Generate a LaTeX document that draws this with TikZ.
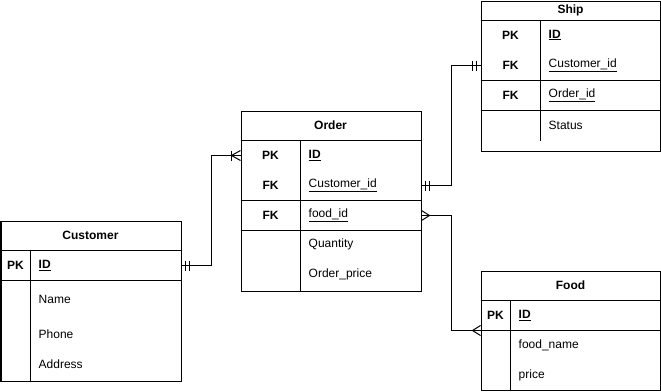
\documentclass[tikz,border=0pt]{standalone}
\usepackage{fontspec}
\setmainfont{Liberation Sans}
\usetikzlibrary{calc}

% Crow's-foot notation markers; #1 = end point, #2 = +1/-1 (side the line leaves towards)
\newcommand\ermandone[2]{%
  \draw[erline] ($(#1)+(#2*4,-5)$) -- ($(#1)+(#2*4,5)$);
  \draw[erline] ($(#1)+(#2*8,-5)$) -- ($(#1)+(#2*8,5)$);}
\newcommand\ermany[2]{%
  \draw[erline] ($(#1)+(0,-5)$) -- ($(#1)+(#2*8,0)$) -- ($(#1)+(0,5)$);}
\newcommand\eronemany[2]{%
  \draw[erline] ($(#1)+(0,-5)$) -- ($(#1)+(#2*9,0)$) -- ($(#1)+(0,5)$);
  \draw[erline] ($(#1)+(#2*9,-5)$) -- ($(#1)+(#2*9,5)$);}

\begin{document}
\begin{tikzpicture}[x=1bp,y=-1bp,
  font=\fontsize{12bp}{14bp}\selectfont,
  erline/.style={line width=1bp,black},
  entity/.style={draw,line width=1bp,rectangle,inner sep=0pt,anchor=north west},
  ttl/.style={font=\fontsize{12bp}{14bp}\selectfont\bfseries},
  keytxt/.style={font=\fontsize{12bp}{14bp}\selectfont\bfseries},
  idtxt/.style={anchor=west,inner sep=0pt,font=\fontsize{12bp}{14bp}\selectfont\bfseries},
  fld/.style={anchor=west,inner sep=0pt},
  rule/.style={line width=1bp}]
\useasboundingbox (0,0) rectangle (661,391);

% ---------- Customer ----------
\node[entity,minimum width=180bp,minimum height=160bp] (cust) at (0.5,220.5) {};
\draw[rule] (0.5,250.5) -- (180.5,250.5);
\draw[rule] (0.5,280.5) -- (180.5,280.5);
\draw[rule] (30.5,250.5) -- (30.5,380.5);
\node[ttl] (custT) at (90.5,235.5) {Customer};
\node[keytxt] (custPK) at (15.5,265.5) {PK};
\node[idtxt] (custId) at (38.5,265.5) {\underline{ID}};
\node[fld] (custName) at (38.5,299) {Name};
\node[fld] (custPhone) at (38.5,334) {Phone};
\node[fld] (custAddr) at (38.5,364) {Address};

% ---------- Order ----------
\node[entity,minimum width=180bp,minimum height=180bp] (ord) at (240.5,110.5) {};
\draw[rule] (240.5,140.5) -- (420.5,140.5);
\draw[rule] (240.5,200.5) -- (420.5,200.5);
\draw[rule] (240.5,230.5) -- (420.5,230.5);
\draw[rule] (300.5,140.5) -- (300.5,290.5);
\node[ttl] (ordT) at (330.5,125.5) {Order};
\node[keytxt] (ordPK) at (270.5,155.5) {PK};
\node[keytxt] (ordFK1) at (270.5,185.5) {FK};
\node[keytxt] (ordFK2) at (270.5,215.5) {FK};
\node[idtxt] (ordId) at (308.5,155.5) {\underline{ID}};
\node[fld] (ordCid) at (308.5,185.5) {\underline{Customer\_id}};
\node[fld] (ordFid) at (308.5,215.5) {\underline{food\_id}};
\node[fld] (ordQty) at (308.5,244.5) {Quantity};
\node[fld] (ordPrice) at (308.5,274.5) {Order\_price};

% ---------- Ship ----------
\node[entity,minimum width=179.4bp,minimum height=150bp] (ship) at (480.5,0.5) {};
\draw[rule] (480.5,20.5) -- (659.9,20.5);
\draw[rule] (480.5,80.5) -- (659.9,80.5);
\draw[rule] (480.5,110.5) -- (659.9,110.5);
\draw[rule] (540.5,20.5) -- (540.5,140.5);
\node[ttl] (shipT) at (570.5,10.5) {Ship};
\node[keytxt] (shipPK) at (510.5,35) {PK};
\node[keytxt] (shipFK1) at (510.5,65.5) {FK};
\node[keytxt] (shipFK2) at (510.5,95) {FK};
\node[idtxt] (shipId) at (548.5,35) {\underline{ID}};
\node[fld] (shipCid) at (548.5,65.5) {\underline{Customer\_id}};
\node[fld] (shipOid) at (548.5,95) {\underline{Order\_id}};
\node[fld] (shipStatus) at (548.5,125) {Status};

% ---------- Food ----------
\node[entity,minimum width=179.4bp,minimum height=119.4bp] (food) at (480.5,270.5) {};
\draw[rule] (480.5,300.5) -- (659.9,300.5);
\draw[rule] (480.5,330.5) -- (659.9,330.5);
\draw[rule] (510.5,300.5) -- (510.5,389.9);
\node[ttl] (foodT) at (570.5,285.5) {Food};
\node[keytxt] (foodPK) at (495.5,315.5) {PK};
\node[idtxt] (foodId) at (518.5,315.5) {\underline{ID}};
\node[fld] (foodName) at (518.5,345) {food\_name};
\node[fld] (foodPrice) at (518.5,375) {price};

% ---------- Relationships ----------
\coordinate (c1a) at (cust.east |- custPK);
\coordinate (c1b) at (ord.west |- ordPK);
\draw[erline] (c1a) -- ++(30,0) |- (c1b);
\ermandone{c1a}{1}
\eronemany{c1b}{-1}

\coordinate (c2a) at (ord.east |- ordFK1);
\coordinate (c2b) at (ship.west |- shipFK1);
\draw[erline] (c2a) -- ++(30,0) |- (c2b);
\ermandone{c2a}{1}
\ermandone{c2b}{-1}

\coordinate (c3a) at (ord.east |- ordFK2);
\coordinate (c3b) at (food.west |- 0,330.5);
\draw[erline] (c3a) -- ++(30,0) |- (c3b);
\ermany{c3a}{1}
\ermany{c3b}{-1}
\end{tikzpicture}
\end{document}
